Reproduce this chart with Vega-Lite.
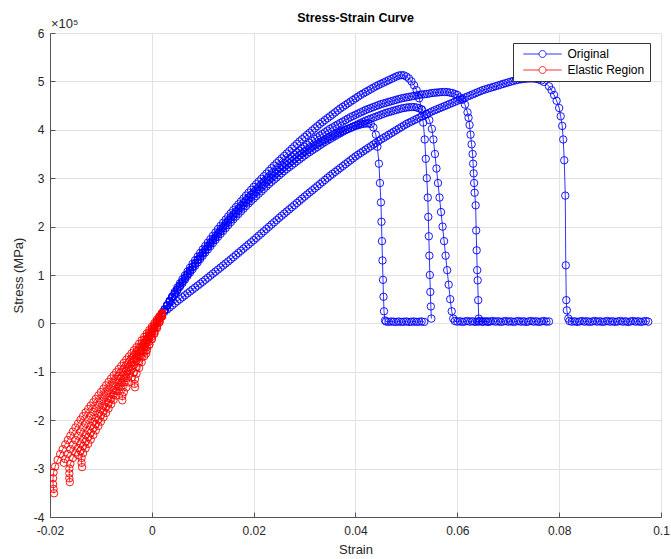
{
"$schema":"https://vega.github.io/schema/vega-lite/v6.json",
"width":611,"height":484,
"autosize":{"type":"none"},
"padding":{"left":50,"top":33,"right":10,"bottom":42},
"background":"white",
"title":{"text":"Stress-Strain Curve","fontSize":12.5,"fontWeight":"bold","font":"Liberation Sans","color":"#000000","offset":-6,"anchor":"middle"},
"config":{
 "view":{"stroke":null},
 "axis":{"domainColor":"#555555","tickColor":"#555555","gridColor":"#e2e2e2","gridWidth":1,"labelFont":"Liberation Sans","labelFontSize":12,"labelColor":"#262626","titleFont":"Liberation Sans","titleFontSize":13,"titleFontWeight":"normal","titleColor":"#262626","tickSize":-5,"labelFlush":false,"labelOverlap":false}
},
"datasets":{
"original":[
{"strain":0.002,"stress":20000,"test":"A"},{"strain":0.0025,"stress":29000,"test":"A"},{"strain":0.003,"stress":38000,"test":"A"},{"strain":0.0035,"stress":47000,"test":"A"},{"strain":0.004,"stress":56000,"test":"A"},{"strain":0.0045,"stress":65000,"test":"A"},{"strain":0.005,"stress":74000,"test":"A"},{"strain":0.0055,"stress":82500,"test":"A"},{"strain":0.006,"stress":91000,"test":"A"},{"strain":0.0065,"stress":99000,"test":"A"},{"strain":0.007,"stress":107000,"test":"A"},{"strain":0.0075,"stress":115000,"test":"A"},{"strain":0.008,"stress":123000,"test":"A"},{"strain":0.0085,"stress":130500,"test":"A"},{"strain":0.009,"stress":138000,"test":"A"},{"strain":0.0095,"stress":145500,"test":"A"},{"strain":0.01,"stress":153000,"test":"A"},{"strain":0.0105,"stress":160000,"test":"A"},{"strain":0.011,"stress":167000,"test":"A"},{"strain":0.0115,"stress":174000,"test":"A"},{"strain":0.012,"stress":181000,"test":"A"},{"strain":0.0125,"stress":188000,"test":"A"},{"strain":0.013,"stress":195000,"test":"A"},{"strain":0.0135,"stress":201500,"test":"A"},{"strain":0.014,"stress":208000,"test":"A"},{"strain":0.0145,"stress":214500,"test":"A"},{"strain":0.015,"stress":221000,"test":"A"},{"strain":0.0155,"stress":227500,"test":"A"},{"strain":0.016,"stress":234000,"test":"A"},{"strain":0.0165,"stress":240000,"test":"A"},{"strain":0.017,"stress":246000,"test":"A"},{"strain":0.0175,"stress":252000,"test":"A"},{"strain":0.018,"stress":258000,"test":"A"},{"strain":0.0185,"stress":264000,"test":"A"},{"strain":0.019,"stress":270000,"test":"A"},{"strain":0.0195,"stress":276000,"test":"A"},{"strain":0.02,"stress":282000,"test":"A"},{"strain":0.0205,"stress":287500,"test":"A"},{"strain":0.021,"stress":293000,"test":"A"},{"strain":0.0215,"stress":298500,"test":"A"},{"strain":0.022,"stress":304000,"test":"A"},{"strain":0.0225,"stress":309500,"test":"A"},{"strain":0.023,"stress":315000,"test":"A"},{"strain":0.0235,"stress":320500,"test":"A"},{"strain":0.024,"stress":326000,"test":"A"},{"strain":0.0245,"stress":331000,"test":"A"},{"strain":0.025,"stress":336000,"test":"A"},{"strain":0.0255,"stress":341000,"test":"A"},{"strain":0.026,"stress":346000,"test":"A"},{"strain":0.0265,"stress":351000,"test":"A"},{"strain":0.027,"stress":356000,"test":"A"},{"strain":0.0275,"stress":361000,"test":"A"},{"strain":0.028,"stress":366000,"test":"A"},{"strain":0.0285,"stress":371000,"test":"A"},{"strain":0.029,"stress":376000,"test":"A"},{"strain":0.0295,"stress":380500,"test":"A"},{"strain":0.03,"stress":385000,"test":"A"},{"strain":0.0305,"stress":389500,"test":"A"},{"strain":0.031,"stress":394000,"test":"A"},{"strain":0.0315,"stress":398500,"test":"A"},{"strain":0.032,"stress":403000,"test":"A"},{"strain":0.0325,"stress":407500,"test":"A"},{"strain":0.033,"stress":412000,"test":"A"},{"strain":0.0335,"stress":416000,"test":"A"},{"strain":0.034,"stress":420000,"test":"A"},{"strain":0.0345,"stress":424000,"test":"A"},{"strain":0.035,"stress":428000,"test":"A"},{"strain":0.0355,"stress":432000,"test":"A"},{"strain":0.036,"stress":436000,"test":"A"},{"strain":0.0365,"stress":440000,"test":"A"},{"strain":0.037,"stress":444000,"test":"A"},{"strain":0.0375,"stress":447500,"test":"A"},{"strain":0.038,"stress":451000,"test":"A"},{"strain":0.0385,"stress":454500,"test":"A"},{"strain":0.039,"stress":458000,"test":"A"},{"strain":0.0395,"stress":461500,"test":"A"},{"strain":0.04,"stress":465000,"test":"A"},{"strain":0.0405,"stress":468500,"test":"A"},{"strain":0.041,"stress":472000,"test":"A"},{"strain":0.0415,"stress":475000,"test":"A"},{"strain":0.042,"stress":478000,"test":"A"},{"strain":0.0425,"stress":481000,"test":"A"},{"strain":0.043,"stress":484000,"test":"A"},{"strain":0.0435,"stress":487000,"test":"A"},{"strain":0.044,"stress":490000,"test":"A"},{"strain":0.0445,"stress":492500,"test":"A"},{"strain":0.045,"stress":495000,"test":"A"},{"strain":0.0455,"stress":497500,"test":"A"},{"strain":0.046,"stress":500000,"test":"A"},{"strain":0.0465,"stress":502500,"test":"A"},{"strain":0.047,"stress":505000,"test":"A"},{"strain":0.0475,"stress":507500,"test":"A"},{"strain":0.048,"stress":510000,"test":"A"},{"strain":0.0485,"stress":512000,"test":"A"},{"strain":0.049,"stress":513000,"test":"A"},{"strain":0.0495,"stress":512500,"test":"A"},{"strain":0.05,"stress":510000,"test":"A"},{"strain":0.0505,"stress":506000,"test":"A"},{"strain":0.051,"stress":500000,"test":"A"},{"strain":0.0515,"stress":492000,"test":"A"},{"strain":0.052,"stress":482000,"test":"A"},{"strain":0.0525,"stress":465000,"test":"A"},{"strain":0.053,"stress":442000,"test":"A"},{"strain":0.0533,"stress":415000,"test":"A"},{"strain":0.0536,"stress":380000,"test":"A"},{"strain":0.0538,"stress":340000,"test":"A"},{"strain":0.054,"stress":300000,"test":"A"},{"strain":0.0542,"stress":260000,"test":"A"},{"strain":0.0543,"stress":220000,"test":"A"},{"strain":0.0544,"stress":180000,"test":"A"},{"strain":0.0545,"stress":140000,"test":"A"},{"strain":0.0546,"stress":100000,"test":"A"},{"strain":0.0547,"stress":65000,"test":"A"},{"strain":0.0548,"stress":35000,"test":"A"},{"strain":0.0549,"stress":10000,"test":"A"},
{"strain":0.002,"stress":20000,"test":"C"},{"strain":0.0025,"stress":28500,"test":"C"},{"strain":0.003,"stress":37000,"test":"C"},{"strain":0.0035,"stress":45500,"test":"C"},{"strain":0.004,"stress":54000,"test":"C"},{"strain":0.0045,"stress":62000,"test":"C"},{"strain":0.005,"stress":70000,"test":"C"},{"strain":0.0055,"stress":78000,"test":"C"},{"strain":0.006,"stress":86000,"test":"C"},{"strain":0.0065,"stress":93500,"test":"C"},{"strain":0.007,"stress":101000,"test":"C"},{"strain":0.0075,"stress":108500,"test":"C"},{"strain":0.008,"stress":116000,"test":"C"},{"strain":0.0085,"stress":123000,"test":"C"},{"strain":0.009,"stress":130000,"test":"C"},{"strain":0.0095,"stress":137000,"test":"C"},{"strain":0.01,"stress":144000,"test":"C"},{"strain":0.0105,"stress":151000,"test":"C"},{"strain":0.011,"stress":158000,"test":"C"},{"strain":0.0115,"stress":164500,"test":"C"},{"strain":0.012,"stress":171000,"test":"C"},{"strain":0.0125,"stress":177500,"test":"C"},{"strain":0.013,"stress":184000,"test":"C"},{"strain":0.0135,"stress":190500,"test":"C"},{"strain":0.014,"stress":197000,"test":"C"},{"strain":0.0145,"stress":203000,"test":"C"},{"strain":0.015,"stress":209000,"test":"C"},{"strain":0.0155,"stress":215000,"test":"C"},{"strain":0.016,"stress":221000,"test":"C"},{"strain":0.0165,"stress":227000,"test":"C"},{"strain":0.017,"stress":233000,"test":"C"},{"strain":0.0175,"stress":238500,"test":"C"},{"strain":0.018,"stress":244000,"test":"C"},{"strain":0.0185,"stress":249500,"test":"C"},{"strain":0.019,"stress":255000,"test":"C"},{"strain":0.0195,"stress":260500,"test":"C"},{"strain":0.02,"stress":266000,"test":"C"},{"strain":0.0205,"stress":271000,"test":"C"},{"strain":0.021,"stress":276000,"test":"C"},{"strain":0.0215,"stress":281000,"test":"C"},{"strain":0.022,"stress":286000,"test":"C"},{"strain":0.0225,"stress":291000,"test":"C"},{"strain":0.023,"stress":296000,"test":"C"},{"strain":0.0235,"stress":300500,"test":"C"},{"strain":0.024,"stress":305000,"test":"C"},{"strain":0.0245,"stress":309500,"test":"C"},{"strain":0.025,"stress":314000,"test":"C"},{"strain":0.0255,"stress":318500,"test":"C"},{"strain":0.026,"stress":323000,"test":"C"},{"strain":0.0265,"stress":327000,"test":"C"},{"strain":0.027,"stress":331000,"test":"C"},{"strain":0.0275,"stress":335000,"test":"C"},{"strain":0.028,"stress":339000,"test":"C"},{"strain":0.0285,"stress":343000,"test":"C"},{"strain":0.029,"stress":347000,"test":"C"},{"strain":0.0295,"stress":350500,"test":"C"},{"strain":0.03,"stress":354000,"test":"C"},{"strain":0.0305,"stress":357500,"test":"C"},{"strain":0.031,"stress":361000,"test":"C"},{"strain":0.0315,"stress":364500,"test":"C"},{"strain":0.032,"stress":368000,"test":"C"},{"strain":0.0325,"stress":371000,"test":"C"},{"strain":0.033,"stress":374000,"test":"C"},{"strain":0.0335,"stress":377000,"test":"C"},{"strain":0.034,"stress":380000,"test":"C"},{"strain":0.0345,"stress":383000,"test":"C"},{"strain":0.035,"stress":386000,"test":"C"},{"strain":0.0355,"stress":388500,"test":"C"},{"strain":0.036,"stress":391000,"test":"C"},{"strain":0.0365,"stress":393500,"test":"C"},{"strain":0.037,"stress":396000,"test":"C"},{"strain":0.0375,"stress":398000,"test":"C"},{"strain":0.038,"stress":400000,"test":"C"},{"strain":0.0385,"stress":402000,"test":"C"},{"strain":0.039,"stress":404000,"test":"C"},{"strain":0.0395,"stress":406000,"test":"C"},{"strain":0.04,"stress":408000,"test":"C"},{"strain":0.0405,"stress":409500,"test":"C"},{"strain":0.041,"stress":411000,"test":"C"},{"strain":0.0415,"stress":412000,"test":"C"},{"strain":0.042,"stress":413000,"test":"C"},{"strain":0.0425,"stress":413000,"test":"C"},{"strain":0.043,"stress":412000,"test":"C"},{"strain":0.0435,"stress":405000,"test":"C"},{"strain":0.044,"stress":390000,"test":"C"},{"strain":0.0443,"stress":365000,"test":"C"},{"strain":0.0446,"stress":330000,"test":"C"},{"strain":0.0448,"stress":290000,"test":"C"},{"strain":0.045,"stress":250000,"test":"C"},{"strain":0.0451,"stress":210000,"test":"C"},{"strain":0.0452,"stress":170000,"test":"C"},{"strain":0.0453,"stress":130000,"test":"C"},{"strain":0.0454,"stress":90000,"test":"C"},{"strain":0.0455,"stress":55000,"test":"C"},{"strain":0.0456,"stress":25000,"test":"C"},{"strain":0.0458,"stress":6000,"test":"C"},{"strain":0.046,"stress":4000,"test":"C"},{"strain":0.0465,"stress":3000,"test":"C"},{"strain":0.047,"stress":4000,"test":"C"},{"strain":0.0475,"stress":3500,"test":"C"},{"strain":0.048,"stress":3000,"test":"C"},{"strain":0.0485,"stress":4000,"test":"C"},{"strain":0.049,"stress":3000,"test":"C"},{"strain":0.0495,"stress":3500,"test":"C"},{"strain":0.05,"stress":4000,"test":"C"},{"strain":0.0505,"stress":3000,"test":"C"},{"strain":0.051,"stress":3500,"test":"C"},{"strain":0.0515,"stress":4000,"test":"C"},{"strain":0.052,"stress":3000,"test":"C"},{"strain":0.0525,"stress":3500,"test":"C"},{"strain":0.053,"stress":4000,"test":"C"},{"strain":0.0535,"stress":3000,"test":"C"},
{"strain":0.002,"stress":20000,"test":"E"},{"strain":0.0025,"stress":28000,"test":"E"},{"strain":0.003,"stress":36000,"test":"E"},{"strain":0.0035,"stress":44000,"test":"E"},{"strain":0.004,"stress":52000,"test":"E"},{"strain":0.0045,"stress":60000,"test":"E"},{"strain":0.005,"stress":68000,"test":"E"},{"strain":0.0055,"stress":75500,"test":"E"},{"strain":0.006,"stress":83000,"test":"E"},{"strain":0.0065,"stress":90500,"test":"E"},{"strain":0.007,"stress":98000,"test":"E"},{"strain":0.0075,"stress":105000,"test":"E"},{"strain":0.008,"stress":112000,"test":"E"},{"strain":0.0085,"stress":119000,"test":"E"},{"strain":0.009,"stress":126000,"test":"E"},{"strain":0.0095,"stress":133000,"test":"E"},{"strain":0.01,"stress":140000,"test":"E"},{"strain":0.0105,"stress":146500,"test":"E"},{"strain":0.011,"stress":153000,"test":"E"},{"strain":0.0115,"stress":159500,"test":"E"},{"strain":0.012,"stress":166000,"test":"E"},{"strain":0.0125,"stress":172500,"test":"E"},{"strain":0.013,"stress":179000,"test":"E"},{"strain":0.0135,"stress":185000,"test":"E"},{"strain":0.014,"stress":191000,"test":"E"},{"strain":0.0145,"stress":197000,"test":"E"},{"strain":0.015,"stress":203000,"test":"E"},{"strain":0.0155,"stress":209000,"test":"E"},{"strain":0.016,"stress":215000,"test":"E"},{"strain":0.0165,"stress":220500,"test":"E"},{"strain":0.017,"stress":226000,"test":"E"},{"strain":0.0175,"stress":231500,"test":"E"},{"strain":0.018,"stress":237000,"test":"E"},{"strain":0.0185,"stress":242500,"test":"E"},{"strain":0.019,"stress":248000,"test":"E"},{"strain":0.0195,"stress":253000,"test":"E"},{"strain":0.02,"stress":258000,"test":"E"},{"strain":0.0205,"stress":263000,"test":"E"},{"strain":0.021,"stress":268000,"test":"E"},{"strain":0.0215,"stress":273000,"test":"E"},{"strain":0.022,"stress":278000,"test":"E"},{"strain":0.0225,"stress":283000,"test":"E"},{"strain":0.023,"stress":288000,"test":"E"},{"strain":0.0235,"stress":292500,"test":"E"},{"strain":0.024,"stress":297000,"test":"E"},{"strain":0.0245,"stress":301500,"test":"E"},{"strain":0.025,"stress":306000,"test":"E"},{"strain":0.0255,"stress":310500,"test":"E"},{"strain":0.026,"stress":315000,"test":"E"},{"strain":0.0265,"stress":319000,"test":"E"},{"strain":0.027,"stress":323000,"test":"E"},{"strain":0.0275,"stress":327000,"test":"E"},{"strain":0.028,"stress":331000,"test":"E"},{"strain":0.0285,"stress":335000,"test":"E"},{"strain":0.029,"stress":339000,"test":"E"},{"strain":0.0295,"stress":343000,"test":"E"},{"strain":0.03,"stress":347000,"test":"E"},{"strain":0.0305,"stress":350500,"test":"E"},{"strain":0.031,"stress":354000,"test":"E"},{"strain":0.0315,"stress":357500,"test":"E"},{"strain":0.032,"stress":361000,"test":"E"},{"strain":0.0325,"stress":364500,"test":"E"},{"strain":0.033,"stress":368000,"test":"E"},{"strain":0.0335,"stress":371500,"test":"E"},{"strain":0.034,"stress":375000,"test":"E"},{"strain":0.0345,"stress":378000,"test":"E"},{"strain":0.035,"stress":381000,"test":"E"},{"strain":0.0355,"stress":384000,"test":"E"},{"strain":0.036,"stress":387000,"test":"E"},{"strain":0.0365,"stress":390000,"test":"E"},{"strain":0.037,"stress":393000,"test":"E"},{"strain":0.0375,"stress":396000,"test":"E"},{"strain":0.038,"stress":399000,"test":"E"},{"strain":0.0385,"stress":401500,"test":"E"},{"strain":0.039,"stress":404000,"test":"E"},{"strain":0.0395,"stress":406500,"test":"E"},{"strain":0.04,"stress":409000,"test":"E"},{"strain":0.0405,"stress":411500,"test":"E"},{"strain":0.041,"stress":414000,"test":"E"},{"strain":0.0415,"stress":416500,"test":"E"},{"strain":0.042,"stress":419000,"test":"E"},{"strain":0.0425,"stress":421000,"test":"E"},{"strain":0.043,"stress":423000,"test":"E"},{"strain":0.0435,"stress":425000,"test":"E"},{"strain":0.044,"stress":427000,"test":"E"},{"strain":0.0445,"stress":429000,"test":"E"},{"strain":0.045,"stress":431000,"test":"E"},{"strain":0.0455,"stress":433000,"test":"E"},{"strain":0.046,"stress":435000,"test":"E"},{"strain":0.0465,"stress":436500,"test":"E"},{"strain":0.047,"stress":438000,"test":"E"},{"strain":0.0475,"stress":439500,"test":"E"},{"strain":0.048,"stress":441000,"test":"E"},{"strain":0.0485,"stress":442500,"test":"E"},{"strain":0.049,"stress":444000,"test":"E"},{"strain":0.0495,"stress":445000,"test":"E"},{"strain":0.05,"stress":446000,"test":"E"},{"strain":0.0505,"stress":446500,"test":"E"},{"strain":0.051,"stress":447000,"test":"E"},{"strain":0.0515,"stress":447000,"test":"E"},{"strain":0.052,"stress":446000,"test":"E"},{"strain":0.0525,"stress":444500,"test":"E"},{"strain":0.053,"stress":442000,"test":"E"},{"strain":0.054,"stress":432000,"test":"E"},{"strain":0.0545,"stress":420000,"test":"E"},{"strain":0.055,"stress":402000,"test":"E"},{"strain":0.0553,"stress":380000,"test":"E"},{"strain":0.0556,"stress":350000,"test":"E"},{"strain":0.0559,"stress":320000,"test":"E"},{"strain":0.0562,"stress":290000,"test":"E"},{"strain":0.0565,"stress":260000,"test":"E"},{"strain":0.0568,"stress":230000,"test":"E"},{"strain":0.0571,"stress":200000,"test":"E"},{"strain":0.0574,"stress":170000,"test":"E"},{"strain":0.0577,"stress":140000,"test":"E"},{"strain":0.058,"stress":110000,"test":"E"},{"strain":0.0583,"stress":80000,"test":"E"},{"strain":0.0586,"stress":50000,"test":"E"},{"strain":0.0589,"stress":25000,"test":"E"},{"strain":0.0592,"stress":10000,"test":"E"},{"strain":0.0595,"stress":5000,"test":"E"},{"strain":0.06,"stress":3500,"test":"E"},{"strain":0.0605,"stress":4500,"test":"E"},{"strain":0.061,"stress":3000,"test":"E"},{"strain":0.0615,"stress":4000,"test":"E"},{"strain":0.062,"stress":5000,"test":"E"},{"strain":0.0625,"stress":3500,"test":"E"},{"strain":0.063,"stress":4500,"test":"E"},{"strain":0.0635,"stress":3000,"test":"E"},{"strain":0.064,"stress":4000,"test":"E"},{"strain":0.0645,"stress":5000,"test":"E"},{"strain":0.065,"stress":3500,"test":"E"},{"strain":0.0655,"stress":4500,"test":"E"},{"strain":0.066,"stress":3000,"test":"E"},{"strain":0.0665,"stress":4000,"test":"E"},{"strain":0.067,"stress":5000,"test":"E"},{"strain":0.0675,"stress":3500,"test":"E"},{"strain":0.068,"stress":4500,"test":"E"},{"strain":0.0685,"stress":3000,"test":"E"},{"strain":0.069,"stress":4000,"test":"E"},{"strain":0.0695,"stress":5000,"test":"E"},{"strain":0.07,"stress":3500,"test":"E"},{"strain":0.0705,"stress":4500,"test":"E"},{"strain":0.071,"stress":3000,"test":"E"},{"strain":0.0715,"stress":4000,"test":"E"},{"strain":0.072,"stress":5000,"test":"E"},{"strain":0.0725,"stress":3500,"test":"E"},{"strain":0.073,"stress":4500,"test":"E"},{"strain":0.0735,"stress":3000,"test":"E"},{"strain":0.074,"stress":4000,"test":"E"},{"strain":0.0745,"stress":5000,"test":"E"},{"strain":0.075,"stress":3500,"test":"E"},{"strain":0.0755,"stress":4500,"test":"E"},{"strain":0.076,"stress":3000,"test":"E"},{"strain":0.0765,"stress":4000,"test":"E"},{"strain":0.077,"stress":5000,"test":"E"},{"strain":0.0775,"stress":3500,"test":"E"},{"strain":0.078,"stress":4000,"test":"E"},
{"strain":0.002,"stress":20000,"test":"B"},{"strain":0.0025,"stress":28500,"test":"B"},{"strain":0.003,"stress":37000,"test":"B"},{"strain":0.0035,"stress":45500,"test":"B"},{"strain":0.004,"stress":54000,"test":"B"},{"strain":0.0045,"stress":62000,"test":"B"},{"strain":0.005,"stress":70000,"test":"B"},{"strain":0.0055,"stress":78000,"test":"B"},{"strain":0.006,"stress":86000,"test":"B"},{"strain":0.0065,"stress":94000,"test":"B"},{"strain":0.007,"stress":102000,"test":"B"},{"strain":0.0075,"stress":109500,"test":"B"},{"strain":0.008,"stress":117000,"test":"B"},{"strain":0.0085,"stress":124500,"test":"B"},{"strain":0.009,"stress":132000,"test":"B"},{"strain":0.0095,"stress":139000,"test":"B"},{"strain":0.01,"stress":146000,"test":"B"},{"strain":0.0105,"stress":153000,"test":"B"},{"strain":0.011,"stress":160000,"test":"B"},{"strain":0.0115,"stress":167000,"test":"B"},{"strain":0.012,"stress":174000,"test":"B"},{"strain":0.0125,"stress":180500,"test":"B"},{"strain":0.013,"stress":187000,"test":"B"},{"strain":0.0135,"stress":193500,"test":"B"},{"strain":0.014,"stress":200000,"test":"B"},{"strain":0.0145,"stress":206500,"test":"B"},{"strain":0.015,"stress":213000,"test":"B"},{"strain":0.0155,"stress":219000,"test":"B"},{"strain":0.016,"stress":225000,"test":"B"},{"strain":0.0165,"stress":231000,"test":"B"},{"strain":0.017,"stress":237000,"test":"B"},{"strain":0.0175,"stress":243000,"test":"B"},{"strain":0.018,"stress":249000,"test":"B"},{"strain":0.0185,"stress":254500,"test":"B"},{"strain":0.019,"stress":260000,"test":"B"},{"strain":0.0195,"stress":265500,"test":"B"},{"strain":0.02,"stress":271000,"test":"B"},{"strain":0.0205,"stress":276500,"test":"B"},{"strain":0.021,"stress":282000,"test":"B"},{"strain":0.0215,"stress":287000,"test":"B"},{"strain":0.022,"stress":292000,"test":"B"},{"strain":0.0225,"stress":297000,"test":"B"},{"strain":0.023,"stress":302000,"test":"B"},{"strain":0.0235,"stress":307000,"test":"B"},{"strain":0.024,"stress":312000,"test":"B"},{"strain":0.0245,"stress":317000,"test":"B"},{"strain":0.025,"stress":322000,"test":"B"},{"strain":0.0255,"stress":326500,"test":"B"},{"strain":0.026,"stress":331000,"test":"B"},{"strain":0.0265,"stress":335500,"test":"B"},{"strain":0.027,"stress":340000,"test":"B"},{"strain":0.0275,"stress":344500,"test":"B"},{"strain":0.028,"stress":349000,"test":"B"},{"strain":0.0285,"stress":353000,"test":"B"},{"strain":0.029,"stress":357000,"test":"B"},{"strain":0.0295,"stress":361000,"test":"B"},{"strain":0.03,"stress":365000,"test":"B"},{"strain":0.0305,"stress":369000,"test":"B"},{"strain":0.031,"stress":373000,"test":"B"},{"strain":0.0315,"stress":377000,"test":"B"},{"strain":0.032,"stress":381000,"test":"B"},{"strain":0.0325,"stress":384500,"test":"B"},{"strain":0.033,"stress":388000,"test":"B"},{"strain":0.0335,"stress":391500,"test":"B"},{"strain":0.034,"stress":395000,"test":"B"},{"strain":0.0345,"stress":398500,"test":"B"},{"strain":0.035,"stress":402000,"test":"B"},{"strain":0.0355,"stress":405000,"test":"B"},{"strain":0.036,"stress":408000,"test":"B"},{"strain":0.0365,"stress":411000,"test":"B"},{"strain":0.037,"stress":414000,"test":"B"},{"strain":0.0375,"stress":417000,"test":"B"},{"strain":0.038,"stress":420000,"test":"B"},{"strain":0.0385,"stress":423000,"test":"B"},{"strain":0.039,"stress":426000,"test":"B"},{"strain":0.0395,"stress":428500,"test":"B"},{"strain":0.04,"stress":431000,"test":"B"},{"strain":0.0405,"stress":433500,"test":"B"},{"strain":0.041,"stress":436000,"test":"B"},{"strain":0.0415,"stress":438500,"test":"B"},{"strain":0.042,"stress":441000,"test":"B"},{"strain":0.0425,"stress":443000,"test":"B"},{"strain":0.043,"stress":445000,"test":"B"},{"strain":0.0435,"stress":447000,"test":"B"},{"strain":0.044,"stress":449000,"test":"B"},{"strain":0.0445,"stress":451000,"test":"B"},{"strain":0.045,"stress":453000,"test":"B"},{"strain":0.0455,"stress":454500,"test":"B"},{"strain":0.046,"stress":456000,"test":"B"},{"strain":0.0465,"stress":457500,"test":"B"},{"strain":0.047,"stress":459000,"test":"B"},{"strain":0.0475,"stress":460500,"test":"B"},{"strain":0.048,"stress":462000,"test":"B"},{"strain":0.0485,"stress":463500,"test":"B"},{"strain":0.049,"stress":465000,"test":"B"},{"strain":0.0495,"stress":466000,"test":"B"},{"strain":0.05,"stress":467000,"test":"B"},{"strain":0.0505,"stress":468000,"test":"B"},{"strain":0.051,"stress":469000,"test":"B"},{"strain":0.0515,"stress":470000,"test":"B"},{"strain":0.052,"stress":471000,"test":"B"},{"strain":0.0525,"stress":472000,"test":"B"},{"strain":0.053,"stress":473000,"test":"B"},{"strain":0.0535,"stress":473500,"test":"B"},{"strain":0.054,"stress":474000,"test":"B"},{"strain":0.0545,"stress":475000,"test":"B"},{"strain":0.055,"stress":476000,"test":"B"},{"strain":0.0555,"stress":476500,"test":"B"},{"strain":0.056,"stress":477000,"test":"B"},{"strain":0.0565,"stress":477500,"test":"B"},{"strain":0.057,"stress":478000,"test":"B"},{"strain":0.0575,"stress":478000,"test":"B"},{"strain":0.058,"stress":478000,"test":"B"},{"strain":0.0585,"stress":477000,"test":"B"},{"strain":0.059,"stress":476000,"test":"B"},{"strain":0.0595,"stress":474000,"test":"B"},{"strain":0.06,"stress":472000,"test":"B"},{"strain":0.0605,"stress":467000,"test":"B"},{"strain":0.061,"stress":462000,"test":"B"},{"strain":0.0615,"stress":452000,"test":"B"},{"strain":0.062,"stress":436000,"test":"B"},{"strain":0.0622,"stress":425000,"test":"B"},{"strain":0.0624,"stress":410000,"test":"B"},{"strain":0.0626,"stress":390000,"test":"B"},{"strain":0.0628,"stress":370000,"test":"B"},{"strain":0.063,"stress":350000,"test":"B"},{"strain":0.0631,"stress":330000,"test":"B"},{"strain":0.0632,"stress":310000,"test":"B"},{"strain":0.0633,"stress":290000,"test":"B"},{"strain":0.0634,"stress":270000,"test":"B"},{"strain":0.0636,"stress":244000,"test":"B"},{"strain":0.0637,"stress":192000,"test":"B"},{"strain":0.0638,"stress":151000,"test":"B"},{"strain":0.0639,"stress":110000,"test":"B"},{"strain":0.064,"stress":89000,"test":"B"},{"strain":0.0641,"stress":48000,"test":"B"},{"strain":0.0642,"stress":10000,"test":"B"},{"strain":0.0643,"stress":4000,"test":"B"},{"strain":0.065,"stress":3500,"test":"B"},{"strain":0.066,"stress":4000,"test":"B"},
{"strain":0.002,"stress":20000,"test":"D"},{"strain":0.0025,"stress":24400,"test":"D"},{"strain":0.003,"stress":28700,"test":"D"},{"strain":0.0035,"stress":33000,"test":"D"},{"strain":0.004,"stress":37300,"test":"D"},{"strain":0.0045,"stress":41700,"test":"D"},{"strain":0.005,"stress":46000,"test":"D"},{"strain":0.0055,"stress":50000,"test":"D"},{"strain":0.006,"stress":54000,"test":"D"},{"strain":0.0065,"stress":58000,"test":"D"},{"strain":0.007,"stress":62000,"test":"D"},{"strain":0.0075,"stress":66000,"test":"D"},{"strain":0.008,"stress":70000,"test":"D"},{"strain":0.0085,"stress":74000,"test":"D"},{"strain":0.009,"stress":78000,"test":"D"},{"strain":0.0095,"stress":82000,"test":"D"},{"strain":0.01,"stress":86000,"test":"D"},{"strain":0.0105,"stress":90200,"test":"D"},{"strain":0.011,"stress":94400,"test":"D"},{"strain":0.0115,"stress":98600,"test":"D"},{"strain":0.012,"stress":102800,"test":"D"},{"strain":0.0125,"stress":107000,"test":"D"},{"strain":0.013,"stress":111200,"test":"D"},{"strain":0.0135,"stress":115400,"test":"D"},{"strain":0.014,"stress":119600,"test":"D"},{"strain":0.0145,"stress":123800,"test":"D"},{"strain":0.015,"stress":128000,"test":"D"},{"strain":0.0155,"stress":132400,"test":"D"},{"strain":0.016,"stress":136800,"test":"D"},{"strain":0.0165,"stress":141200,"test":"D"},{"strain":0.017,"stress":145600,"test":"D"},{"strain":0.0175,"stress":150000,"test":"D"},{"strain":0.018,"stress":154400,"test":"D"},{"strain":0.0185,"stress":158800,"test":"D"},{"strain":0.019,"stress":163200,"test":"D"},{"strain":0.0195,"stress":167600,"test":"D"},{"strain":0.02,"stress":172000,"test":"D"},{"strain":0.0205,"stress":176600,"test":"D"},{"strain":0.021,"stress":181200,"test":"D"},{"strain":0.0215,"stress":185800,"test":"D"},{"strain":0.022,"stress":190400,"test":"D"},{"strain":0.0225,"stress":195000,"test":"D"},{"strain":0.023,"stress":199600,"test":"D"},{"strain":0.0235,"stress":204200,"test":"D"},{"strain":0.024,"stress":208800,"test":"D"},{"strain":0.0245,"stress":213400,"test":"D"},{"strain":0.025,"stress":218000,"test":"D"},{"strain":0.0255,"stress":222400,"test":"D"},{"strain":0.026,"stress":226800,"test":"D"},{"strain":0.0265,"stress":231200,"test":"D"},{"strain":0.027,"stress":235600,"test":"D"},{"strain":0.0275,"stress":240000,"test":"D"},{"strain":0.028,"stress":244400,"test":"D"},{"strain":0.0285,"stress":248800,"test":"D"},{"strain":0.029,"stress":253200,"test":"D"},{"strain":0.0295,"stress":257600,"test":"D"},{"strain":0.03,"stress":262000,"test":"D"},{"strain":0.0305,"stress":266300,"test":"D"},{"strain":0.031,"stress":270600,"test":"D"},{"strain":0.0315,"stress":274900,"test":"D"},{"strain":0.032,"stress":279200,"test":"D"},{"strain":0.0325,"stress":283500,"test":"D"},{"strain":0.033,"stress":287800,"test":"D"},{"strain":0.0335,"stress":292100,"test":"D"},{"strain":0.034,"stress":296400,"test":"D"},{"strain":0.0345,"stress":300700,"test":"D"},{"strain":0.035,"stress":305000,"test":"D"},{"strain":0.0355,"stress":309000,"test":"D"},{"strain":0.036,"stress":313000,"test":"D"},{"strain":0.0365,"stress":317000,"test":"D"},{"strain":0.037,"stress":321000,"test":"D"},{"strain":0.0375,"stress":325000,"test":"D"},{"strain":0.038,"stress":329000,"test":"D"},{"strain":0.0385,"stress":333000,"test":"D"},{"strain":0.039,"stress":337000,"test":"D"},{"strain":0.0395,"stress":341000,"test":"D"},{"strain":0.04,"stress":345000,"test":"D"},{"strain":0.0405,"stress":348500,"test":"D"},{"strain":0.041,"stress":352000,"test":"D"},{"strain":0.0415,"stress":355500,"test":"D"},{"strain":0.042,"stress":359000,"test":"D"},{"strain":0.0425,"stress":362500,"test":"D"},{"strain":0.043,"stress":366000,"test":"D"},{"strain":0.0435,"stress":369500,"test":"D"},{"strain":0.044,"stress":373000,"test":"D"},{"strain":0.0445,"stress":376500,"test":"D"},{"strain":0.045,"stress":380000,"test":"D"},{"strain":0.0455,"stress":383200,"test":"D"},{"strain":0.046,"stress":386400,"test":"D"},{"strain":0.0465,"stress":389600,"test":"D"},{"strain":0.047,"stress":392800,"test":"D"},{"strain":0.0475,"stress":396000,"test":"D"},{"strain":0.048,"stress":399200,"test":"D"},{"strain":0.0485,"stress":402400,"test":"D"},{"strain":0.049,"stress":405600,"test":"D"},{"strain":0.0495,"stress":408800,"test":"D"},{"strain":0.05,"stress":412000,"test":"D"},{"strain":0.0505,"stress":414600,"test":"D"},{"strain":0.051,"stress":417200,"test":"D"},{"strain":0.0515,"stress":419800,"test":"D"},{"strain":0.052,"stress":422400,"test":"D"},{"strain":0.0525,"stress":425000,"test":"D"},{"strain":0.053,"stress":427600,"test":"D"},{"strain":0.0535,"stress":430200,"test":"D"},{"strain":0.054,"stress":432800,"test":"D"},{"strain":0.0545,"stress":435400,"test":"D"},{"strain":0.055,"stress":438000,"test":"D"},{"strain":0.0555,"stress":440200,"test":"D"},{"strain":0.056,"stress":442400,"test":"D"},{"strain":0.0565,"stress":444600,"test":"D"},{"strain":0.057,"stress":446800,"test":"D"},{"strain":0.0575,"stress":449000,"test":"D"},{"strain":0.058,"stress":451200,"test":"D"},{"strain":0.0585,"stress":453400,"test":"D"},{"strain":0.059,"stress":455600,"test":"D"},{"strain":0.0595,"stress":457800,"test":"D"},{"strain":0.06,"stress":460000,"test":"D"},{"strain":0.0605,"stress":462200,"test":"D"},{"strain":0.061,"stress":464400,"test":"D"},{"strain":0.0615,"stress":466600,"test":"D"},{"strain":0.062,"stress":468800,"test":"D"},{"strain":0.0625,"stress":471000,"test":"D"},{"strain":0.063,"stress":473200,"test":"D"},{"strain":0.0635,"stress":475400,"test":"D"},{"strain":0.064,"stress":477600,"test":"D"},{"strain":0.0645,"stress":479800,"test":"D"},{"strain":0.065,"stress":482000,"test":"D"},{"strain":0.0655,"stress":483600,"test":"D"},{"strain":0.066,"stress":485200,"test":"D"},{"strain":0.0665,"stress":486800,"test":"D"},{"strain":0.067,"stress":488400,"test":"D"},{"strain":0.0675,"stress":490000,"test":"D"},{"strain":0.068,"stress":491600,"test":"D"},{"strain":0.0685,"stress":493200,"test":"D"},{"strain":0.069,"stress":494800,"test":"D"},{"strain":0.0695,"stress":496400,"test":"D"},{"strain":0.07,"stress":498000,"test":"D"},{"strain":0.0705,"stress":499500,"test":"D"},{"strain":0.071,"stress":501000,"test":"D"},{"strain":0.0715,"stress":502300,"test":"D"},{"strain":0.072,"stress":503500,"test":"D"},{"strain":0.0725,"stress":504300,"test":"D"},{"strain":0.073,"stress":505000,"test":"D"},{"strain":0.0735,"stress":505500,"test":"D"},{"strain":0.074,"stress":506000,"test":"D"},{"strain":0.0745,"stress":506000,"test":"D"},{"strain":0.075,"stress":506000,"test":"D"},{"strain":0.0755,"stress":505200,"test":"D"},{"strain":0.076,"stress":504000,"test":"D"},{"strain":0.0765,"stress":502000,"test":"D"},{"strain":0.077,"stress":499000,"test":"D"},{"strain":0.078,"stress":490000,"test":"D"},{"strain":0.0785,"stress":482000,"test":"D"},{"strain":0.079,"stress":472000,"test":"D"},{"strain":0.0795,"stress":460000,"test":"D"},{"strain":0.08,"stress":445000,"test":"D"},{"strain":0.0803,"stress":428000,"test":"D"},{"strain":0.0806,"stress":408000,"test":"D"},{"strain":0.0808,"stress":380000,"test":"D"},{"strain":0.081,"stress":337000,"test":"D"},{"strain":0.0812,"stress":264000,"test":"D"},{"strain":0.0813,"stress":120000,"test":"D"},{"strain":0.0814,"stress":48000,"test":"D"},{"strain":0.0815,"stress":27000,"test":"D"},{"strain":0.0818,"stress":10000,"test":"D"},{"strain":0.082,"stress":5000,"test":"D"},{"strain":0.0825,"stress":3500,"test":"D"},{"strain":0.083,"stress":4500,"test":"D"},{"strain":0.0835,"stress":3000,"test":"D"},{"strain":0.084,"stress":4000,"test":"D"},{"strain":0.0845,"stress":5000,"test":"D"},{"strain":0.085,"stress":3500,"test":"D"},{"strain":0.0855,"stress":4500,"test":"D"},{"strain":0.086,"stress":3000,"test":"D"},{"strain":0.0865,"stress":4000,"test":"D"},{"strain":0.087,"stress":5000,"test":"D"},{"strain":0.0875,"stress":3500,"test":"D"},{"strain":0.088,"stress":4500,"test":"D"},{"strain":0.0885,"stress":3000,"test":"D"},{"strain":0.089,"stress":4000,"test":"D"},{"strain":0.0895,"stress":5000,"test":"D"},{"strain":0.09,"stress":3500,"test":"D"},{"strain":0.0905,"stress":4500,"test":"D"},{"strain":0.091,"stress":3000,"test":"D"},{"strain":0.0915,"stress":4000,"test":"D"},{"strain":0.092,"stress":5000,"test":"D"},{"strain":0.0925,"stress":3500,"test":"D"},{"strain":0.093,"stress":4500,"test":"D"},{"strain":0.0935,"stress":3000,"test":"D"},{"strain":0.094,"stress":4000,"test":"D"},{"strain":0.0945,"stress":5000,"test":"D"},{"strain":0.095,"stress":3500,"test":"D"},{"strain":0.0955,"stress":4500,"test":"D"},{"strain":0.096,"stress":3000,"test":"D"},{"strain":0.0965,"stress":4000,"test":"D"},{"strain":0.097,"stress":5000,"test":"D"},{"strain":0.0975,"stress":3500,"test":"D"}
],
"elastic":[
{"strain":0.002,"stress":22000,"test":"R1"},{"strain":0.0015,"stress":15000,"test":"R1"},{"strain":0.001,"stress":8000,"test":"R1"},{"strain":0.0005,"stress":500,"test":"R1"},{"strain":0.0,"stress":-7000,"test":"R1"},{"strain":-0.0005,"stress":-14000,"test":"R1"},{"strain":-0.001,"stress":-21000,"test":"R1"},{"strain":-0.0015,"stress":-28000,"test":"R1"},{"strain":-0.002,"stress":-35000,"test":"R1"},{"strain":-0.0025,"stress":-42000,"test":"R1"},{"strain":-0.003,"stress":-49000,"test":"R1"},{"strain":-0.0035,"stress":-55500,"test":"R1"},{"strain":-0.004,"stress":-62000,"test":"R1"},{"strain":-0.0045,"stress":-68500,"test":"R1"},{"strain":-0.005,"stress":-75000,"test":"R1"},{"strain":-0.0055,"stress":-81500,"test":"R1"},{"strain":-0.006,"stress":-88000,"test":"R1"},{"strain":-0.0065,"stress":-94500,"test":"R1"},{"strain":-0.007,"stress":-101000,"test":"R1"},{"strain":-0.0075,"stress":-107500,"test":"R1"},{"strain":-0.008,"stress":-114000,"test":"R1"},{"strain":-0.0085,"stress":-121000,"test":"R1"},{"strain":-0.009,"stress":-128000,"test":"R1"},{"strain":-0.0095,"stress":-135000,"test":"R1"},{"strain":-0.01,"stress":-142000,"test":"R1"},{"strain":-0.0105,"stress":-149000,"test":"R1"},{"strain":-0.011,"stress":-156000,"test":"R1"},{"strain":-0.0115,"stress":-163000,"test":"R1"},{"strain":-0.012,"stress":-170000,"test":"R1"},{"strain":-0.0125,"stress":-177000,"test":"R1"},{"strain":-0.013,"stress":-184000,"test":"R1"},{"strain":-0.0135,"stress":-191500,"test":"R1"},{"strain":-0.014,"stress":-199000,"test":"R1"},{"strain":-0.0145,"stress":-207000,"test":"R1"},{"strain":-0.015,"stress":-215000,"test":"R1"},{"strain":-0.0155,"stress":-223500,"test":"R1"},{"strain":-0.016,"stress":-232000,"test":"R1"},{"strain":-0.0165,"stress":-241000,"test":"R1"},{"strain":-0.017,"stress":-250000,"test":"R1"},{"strain":-0.0175,"stress":-260000,"test":"R1"},{"strain":-0.018,"stress":-270000,"test":"R1"},{"strain":-0.0185,"stress":-282000,"test":"R1"},{"strain":-0.019,"stress":-296000,"test":"R1"},{"strain":-0.0193,"stress":-308000,"test":"R1"},{"strain":-0.0194,"stress":-320000,"test":"R1"},{"strain":-0.0194,"stress":-332000,"test":"R1"},{"strain":-0.0193,"stress":-342000,"test":"R1"},{"strain":-0.0192,"stress":-351000,"test":"R1"},
{"strain":0.002,"stress":21000,"test":"R7"},{"strain":0.0015,"stress":13000,"test":"R7"},{"strain":0.001,"stress":5500,"test":"R7"},{"strain":0.0005,"stress":-3000,"test":"R7"},{"strain":0.0,"stress":-11000,"test":"R7"},{"strain":-0.0005,"stress":-19000,"test":"R7"},{"strain":-0.001,"stress":-26500,"test":"R7"},{"strain":-0.0015,"stress":-34000,"test":"R7"},{"strain":-0.002,"stress":-42000,"test":"R7"},{"strain":-0.0025,"stress":-50000,"test":"R7"},{"strain":-0.003,"stress":-57500,"test":"R7"},{"strain":-0.0035,"stress":-65000,"test":"R7"},{"strain":-0.004,"stress":-72000,"test":"R7"},{"strain":-0.0045,"stress":-79500,"test":"R7"},{"strain":-0.005,"stress":-86500,"test":"R7"},{"strain":-0.0055,"stress":-94000,"test":"R7"},{"strain":-0.006,"stress":-101000,"test":"R7"},{"strain":-0.0065,"stress":-108500,"test":"R7"},{"strain":-0.007,"stress":-115500,"test":"R7"},{"strain":-0.0075,"stress":-123000,"test":"R7"},{"strain":-0.008,"stress":-130000,"test":"R7"},{"strain":-0.0085,"stress":-137500,"test":"R7"},{"strain":-0.009,"stress":-145000,"test":"R7"},{"strain":-0.0095,"stress":-152500,"test":"R7"},{"strain":-0.01,"stress":-160000,"test":"R7"},{"strain":-0.0105,"stress":-168000,"test":"R7"},{"strain":-0.011,"stress":-175500,"test":"R7"},{"strain":-0.0115,"stress":-183000,"test":"R7"},{"strain":-0.012,"stress":-191000,"test":"R7"},{"strain":-0.0125,"stress":-199000,"test":"R7"},{"strain":-0.013,"stress":-207000,"test":"R7"},{"strain":-0.0135,"stress":-215000,"test":"R7"},{"strain":-0.014,"stress":-223500,"test":"R7"},{"strain":-0.0145,"stress":-232000,"test":"R7"},{"strain":-0.015,"stress":-241000,"test":"R7"},{"strain":-0.0155,"stress":-250500,"test":"R7"},{"strain":-0.016,"stress":-260000,"test":"R7"},{"strain":-0.0165,"stress":-270000,"test":"R7"},{"strain":-0.017,"stress":-280000,"test":"R7"},{"strain":-0.0173,"stress":-288000,"test":"R7"},
{"strain":0.002,"stress":20000,"test":"R2"},{"strain":0.0015,"stress":11500,"test":"R2"},{"strain":0.001,"stress":3000,"test":"R2"},{"strain":0.0005,"stress":-6000,"test":"R2"},{"strain":0.0,"stress":-15000,"test":"R2"},{"strain":-0.0005,"stress":-23500,"test":"R2"},{"strain":-0.001,"stress":-32000,"test":"R2"},{"strain":-0.0015,"stress":-40500,"test":"R2"},{"strain":-0.002,"stress":-49000,"test":"R2"},{"strain":-0.0025,"stress":-57500,"test":"R2"},{"strain":-0.003,"stress":-66000,"test":"R2"},{"strain":-0.0035,"stress":-74000,"test":"R2"},{"strain":-0.004,"stress":-82000,"test":"R2"},{"strain":-0.0045,"stress":-90000,"test":"R2"},{"strain":-0.005,"stress":-98000,"test":"R2"},{"strain":-0.0055,"stress":-106000,"test":"R2"},{"strain":-0.006,"stress":-114000,"test":"R2"},{"strain":-0.0065,"stress":-122000,"test":"R2"},{"strain":-0.007,"stress":-130000,"test":"R2"},{"strain":-0.0075,"stress":-138000,"test":"R2"},{"strain":-0.008,"stress":-146000,"test":"R2"},{"strain":-0.0085,"stress":-154000,"test":"R2"},{"strain":-0.009,"stress":-162000,"test":"R2"},{"strain":-0.0095,"stress":-170000,"test":"R2"},{"strain":-0.01,"stress":-178000,"test":"R2"},{"strain":-0.0105,"stress":-186500,"test":"R2"},{"strain":-0.011,"stress":-195000,"test":"R2"},{"strain":-0.0115,"stress":-203500,"test":"R2"},{"strain":-0.012,"stress":-212000,"test":"R2"},{"strain":-0.0125,"stress":-221000,"test":"R2"},{"strain":-0.013,"stress":-230000,"test":"R2"},{"strain":-0.0135,"stress":-239000,"test":"R2"},{"strain":-0.014,"stress":-248000,"test":"R2"},{"strain":-0.0145,"stress":-257500,"test":"R2"},{"strain":-0.015,"stress":-267000,"test":"R2"},{"strain":-0.0155,"stress":-278000,"test":"R2"},{"strain":-0.016,"stress":-290000,"test":"R2"},{"strain":-0.0162,"stress":-300000,"test":"R2"},{"strain":-0.0162,"stress":-310000,"test":"R2"},{"strain":-0.0162,"stress":-320000,"test":"R2"},{"strain":-0.0161,"stress":-328000,"test":"R2"},
{"strain":0.002,"stress":19000,"test":"R8"},{"strain":0.0015,"stress":10000,"test":"R8"},{"strain":0.001,"stress":1500,"test":"R8"},{"strain":0.0005,"stress":-8000,"test":"R8"},{"strain":0.0,"stress":-17500,"test":"R8"},{"strain":-0.0005,"stress":-26500,"test":"R8"},{"strain":-0.001,"stress":-35500,"test":"R8"},{"strain":-0.0015,"stress":-44500,"test":"R8"},{"strain":-0.002,"stress":-53500,"test":"R8"},{"strain":-0.0025,"stress":-62500,"test":"R8"},{"strain":-0.003,"stress":-71500,"test":"R8"},{"strain":-0.0035,"stress":-80000,"test":"R8"},{"strain":-0.004,"stress":-88500,"test":"R8"},{"strain":-0.0045,"stress":-97000,"test":"R8"},{"strain":-0.005,"stress":-105500,"test":"R8"},{"strain":-0.0055,"stress":-114000,"test":"R8"},{"strain":-0.006,"stress":-122500,"test":"R8"},{"strain":-0.0065,"stress":-131000,"test":"R8"},{"strain":-0.007,"stress":-139500,"test":"R8"},{"strain":-0.0075,"stress":-148000,"test":"R8"},{"strain":-0.008,"stress":-156500,"test":"R8"},{"strain":-0.0085,"stress":-165000,"test":"R8"},{"strain":-0.009,"stress":-173500,"test":"R8"},{"strain":-0.0095,"stress":-182000,"test":"R8"},{"strain":-0.01,"stress":-190500,"test":"R8"},{"strain":-0.0105,"stress":-199000,"test":"R8"},{"strain":-0.011,"stress":-208000,"test":"R8"},{"strain":-0.0115,"stress":-217000,"test":"R8"},{"strain":-0.012,"stress":-226000,"test":"R8"},{"strain":-0.0125,"stress":-235000,"test":"R8"},{"strain":-0.013,"stress":-244000,"test":"R8"},{"strain":-0.0135,"stress":-253500,"test":"R8"},{"strain":-0.014,"stress":-263000,"test":"R8"},{"strain":-0.0145,"stress":-272000,"test":"R8"},
{"strain":0.002,"stress":18000,"test":"R3"},{"strain":0.0015,"stress":9000,"test":"R3"},{"strain":0.001,"stress":0,"test":"R3"},{"strain":0.0005,"stress":-10000,"test":"R3"},{"strain":0.0,"stress":-20000,"test":"R3"},{"strain":-0.0005,"stress":-29500,"test":"R3"},{"strain":-0.001,"stress":-39000,"test":"R3"},{"strain":-0.0015,"stress":-48500,"test":"R3"},{"strain":-0.002,"stress":-58000,"test":"R3"},{"strain":-0.0025,"stress":-67500,"test":"R3"},{"strain":-0.003,"stress":-77000,"test":"R3"},{"strain":-0.0035,"stress":-86000,"test":"R3"},{"strain":-0.004,"stress":-95000,"test":"R3"},{"strain":-0.0045,"stress":-104000,"test":"R3"},{"strain":-0.005,"stress":-113000,"test":"R3"},{"strain":-0.0055,"stress":-122000,"test":"R3"},{"strain":-0.006,"stress":-131000,"test":"R3"},{"strain":-0.0065,"stress":-140000,"test":"R3"},{"strain":-0.007,"stress":-149000,"test":"R3"},{"strain":-0.0075,"stress":-158000,"test":"R3"},{"strain":-0.008,"stress":-167000,"test":"R3"},{"strain":-0.0085,"stress":-176000,"test":"R3"},{"strain":-0.009,"stress":-185000,"test":"R3"},{"strain":-0.0095,"stress":-194000,"test":"R3"},{"strain":-0.01,"stress":-203000,"test":"R3"},{"strain":-0.0105,"stress":-212000,"test":"R3"},{"strain":-0.011,"stress":-221000,"test":"R3"},{"strain":-0.0115,"stress":-230500,"test":"R3"},{"strain":-0.012,"stress":-240000,"test":"R3"},{"strain":-0.0125,"stress":-249000,"test":"R3"},{"strain":-0.013,"stress":-258000,"test":"R3"},{"strain":-0.0135,"stress":-268000,"test":"R3"},{"strain":-0.0138,"stress":-278000,"test":"R3"},{"strain":-0.0138,"stress":-288000,"test":"R3"},{"strain":-0.0137,"stress":-297000,"test":"R3"},
{"strain":0.002,"stress":16000,"test":"R4"},{"strain":0.0015,"stress":5500,"test":"R4"},{"strain":0.001,"stress":-5000,"test":"R4"},{"strain":0.0005,"stress":-16000,"test":"R4"},{"strain":0.0,"stress":-27000,"test":"R4"},{"strain":-0.0005,"stress":-37500,"test":"R4"},{"strain":-0.001,"stress":-48000,"test":"R4"},{"strain":-0.0015,"stress":-59000,"test":"R4"},{"strain":-0.002,"stress":-70000,"test":"R4"},{"strain":-0.0025,"stress":-80500,"test":"R4"},{"strain":-0.003,"stress":-91000,"test":"R4"},{"strain":-0.0035,"stress":-101500,"test":"R4"},{"strain":-0.004,"stress":-112000,"test":"R4"},{"strain":-0.0045,"stress":-122000,"test":"R4"},{"strain":-0.005,"stress":-132000,"test":"R4"},{"strain":-0.0055,"stress":-142000,"test":"R4"},{"strain":-0.0058,"stress":-150000,"test":"R4"},{"strain":-0.0058,"stress":-159000,"test":"R4"},
{"strain":0.002,"stress":15000,"test":"R5"},{"strain":0.0015,"stress":3500,"test":"R5"},{"strain":0.001,"stress":-8000,"test":"R5"},{"strain":0.0005,"stress":-20000,"test":"R5"},{"strain":0.0,"stress":-32000,"test":"R5"},{"strain":-0.0005,"stress":-44000,"test":"R5"},{"strain":-0.001,"stress":-56000,"test":"R5"},{"strain":-0.0015,"stress":-68000,"test":"R5"},{"strain":-0.002,"stress":-80000,"test":"R5"},{"strain":-0.0025,"stress":-92000,"test":"R5"},{"strain":-0.003,"stress":-104000,"test":"R5"},{"strain":-0.0033,"stress":-115000,"test":"R5"},{"strain":-0.0034,"stress":-125000,"test":"R5"},{"strain":-0.0033,"stress":-132000,"test":"R5"},
{"strain":0.002,"stress":14000,"test":"R6"},{"strain":0.0015,"stress":2000,"test":"R6"},{"strain":0.001,"stress":-10000,"test":"R6"},{"strain":0.0005,"stress":-21500,"test":"R6"},{"strain":0.0,"stress":-33000,"test":"R6"},{"strain":-0.0005,"stress":-44000,"test":"R6"},{"strain":-0.001,"stress":-55000,"test":"R6"},{"strain":-0.0011,"stress":-62000,"test":"R6"}
],
"note":[{"strain":-0.02,"stress":600000,"label":"×10⁵"}]
},
"encoding":{
 "x":{"field":"strain","type":"quantitative","scale":{"domain":[-0.02,0.1],"nice":false,"zero":false},
  "axis":{"values":[-0.02,0,0.02,0.04,0.06,0.08,0.1],"labelExpr":"'' + datum.value","title":"Strain","grid":true,"labelPadding":13,"titlePadding":7}},
 "y":{"field":"stress","type":"quantitative","scale":{"domain":[-400000,600000],"nice":false,"zero":false},
  "axis":{"values":[-400000,-300000,-200000,-100000,0,100000,200000,300000,400000,500000,600000],"labelExpr":"'' + (datum.value/100000)","title":"Stress (MPa)","grid":true,"labelPadding":11,"titlePadding":8}}
},
"layer":[
 {"data":{"name":"original"},"mark":{"type":"line","strokeWidth":0.8,"clip":true},
  "encoding":{"detail":{"field":"test"},"order":{"value":null},
   "color":{"datum":"Original","type":"nominal","scale":{"domain":["Original","Elastic Region"],"range":["#0000ff","#ff0000"]},
    "legend":{"title":null,"orient":"none","legendX":463,"legendY":10,"fillColor":"white","strokeColor":"#333333","padding":5,"labelFont":"Liberation Sans","labelFontSize":12,"labelColor":"#000000","symbolType":"M-5.5,0H-1M1,0H5.5M1,0A1,1 0 1 1 -1,0A1,1 0 1 1 1,0","symbolSize":49,"symbolStrokeWidth":0.8,"symbolOffset":18.5,"labelOffset":19,"rowPadding":4}}}},
 {"data":{"name":"original"},"mark":{"type":"point","shape":"circle","filled":false,"size":55,"strokeWidth":0.9,"opacity":1,"clip":true},
  "encoding":{
   "color":{"datum":"Original","type":"nominal","scale":{"domain":["Original","Elastic Region"],"range":["#0000ff","#ff0000"]},
    "legend":{"title":null,"orient":"none","legendX":463,"legendY":10,"fillColor":"white","strokeColor":"#333333","padding":5,"labelFont":"Liberation Sans","labelFontSize":12,"labelColor":"#000000","symbolType":"M-5.5,0H-1M1,0H5.5M1,0A1,1 0 1 1 -1,0A1,1 0 1 1 1,0","symbolSize":49,"symbolStrokeWidth":0.8,"symbolOffset":18.5,"labelOffset":19,"rowPadding":4}}}},
 {"data":{"name":"elastic"},"mark":{"type":"line","strokeWidth":0.8,"clip":true},
  "encoding":{"detail":{"field":"test"},"order":{"value":null},
   "color":{"datum":"Elastic Region","type":"nominal","scale":{"domain":["Original","Elastic Region"],"range":["#0000ff","#ff0000"]},
    "legend":{"title":null,"orient":"none","legendX":463,"legendY":10,"fillColor":"white","strokeColor":"#333333","padding":5,"labelFont":"Liberation Sans","labelFontSize":12,"labelColor":"#000000","symbolType":"M-5.5,0H-1M1,0H5.5M1,0A1,1 0 1 1 -1,0A1,1 0 1 1 1,0","symbolSize":49,"symbolStrokeWidth":0.8,"symbolOffset":18.5,"labelOffset":19,"rowPadding":4}}}},
 {"data":{"name":"elastic"},"mark":{"type":"point","shape":"circle","filled":false,"size":55,"strokeWidth":0.9,"opacity":1,"clip":true},
  "encoding":{
   "color":{"datum":"Elastic Region","type":"nominal","scale":{"domain":["Original","Elastic Region"],"range":["#0000ff","#ff0000"]},
    "legend":{"title":null,"orient":"none","legendX":463,"legendY":10,"fillColor":"white","strokeColor":"#333333","padding":5,"labelFont":"Liberation Sans","labelFontSize":12,"labelColor":"#000000","symbolType":"M-5.5,0H-1M1,0H5.5M1,0A1,1 0 1 1 -1,0A1,1 0 1 1 1,0","symbolSize":49,"symbolStrokeWidth":0.8,"symbolOffset":18.5,"labelOffset":19,"rowPadding":4}}}},
 {"data":{"name":"note"},"mark":{"type":"text","align":"left","baseline":"alphabetic","dx":1,"dy":-5,"font":"Liberation Sans","fontSize":13,"fill":"#262626"},
  "encoding":{"text":{"field":"label","type":"nominal"}}}
]
}
